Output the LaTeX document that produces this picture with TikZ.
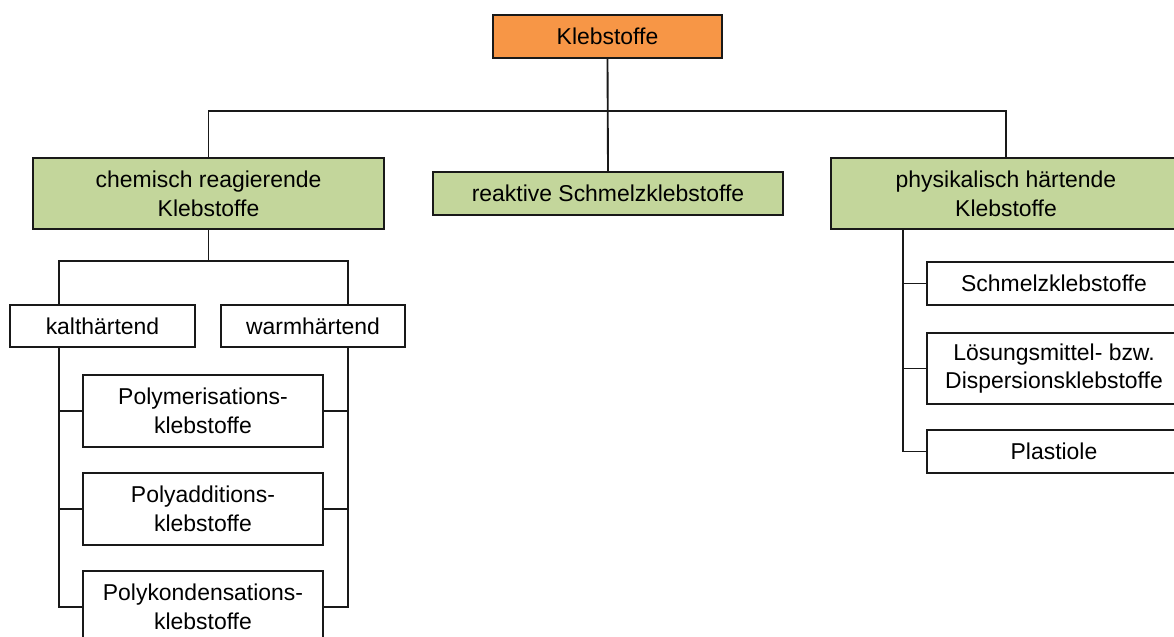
\documentclass[tikz,border=0pt]{standalone}
\usepackage{tikz}
\usepackage{xcolor}
\usepackage{fontspec}
\setmainfont{Liberation Sans}

\definecolor{orng}{HTML}{F79646}
\definecolor{olive}{HTML}{C3D69B}

\begin{document}
\begin{tikzpicture}[x=0.75pt,y=-0.75pt]
    \tikzstyle{B}=[rectangle,draw=black!90,line width=1.4pt,inner sep=0pt,align=center,
        font=\fontsize{17.2}{21.5}\selectfont]
    \tikzstyle{R}=[B,fill=orng]
    \tikzstyle{G}=[B,fill=olive]
    \tikzstyle{W}=[B,fill=white]
    \tikzstyle{line}=[draw=black!90,line width=1.4pt]

    % Page
    \clip (0,0) rectangle (1174,636);

    % Root and groups
    \node [R,minimum width=171.75pt,minimum height=32.25pt] (root) at (607.5, 36.5) {Klebstoffe};
    \node [G,minimum width=263.25pt,minimum height=53.25pt] (chem) at (208.5, 193.5) {chemisch reagierende\\Klebstoffe};
    \node [G,minimum width=262.5pt,minimum height=32.25pt] (reak) at (608, 193.5) {reaktive Schmelzklebstoffe};
    \node [G,minimum width=262.5pt,minimum height=53.25pt] (phys) at (1006, 193.5) {physikalisch härtende\\Klebstoffe};

    \coordinate (bus) at (607.5, 111);
    \draw [line] (root.south) -- (reak.north);
    \draw [line] (chem.north) |- (bus) -| (phys.north);

    % chemisch reagierend
    \node [W,minimum width=138.75pt,minimum height=31.5pt] (kalt) at (102.5, 326) {kalthärtend};
    \node [W,minimum width=138pt,minimum height=31.5pt] (warm) at (313, 326) {warmhärtend};

    \node [W,minimum width=180pt,minimum height=54pt] (pm) at (203, 411) {Polymerisations-\\klebstoffe};
    \node [W,minimum width=180pt,minimum height=54pt] (pa) at (203, 509) {Polyadditions-\\klebstoffe};
    \node [W,minimum width=180pt,minimum height=54pt] (pk) at (203, 607) {Polykondensations-\\klebstoffe};

    \coordinate (kl) at (59, 261);
    \coordinate (wl) at (348, 261);
    \draw [line] (chem.south) -- (chem.south |- kl);
    \draw [line] (kalt.north -| kl) -- (kl) -- (wl) -- (warm.north -| wl);

    \draw [line] (kalt.south -| kl) |- (pk.west);
    \draw [line] (kl |- pm.west) -- (pm.west);
    \draw [line] (kl |- pa.west) -- (pa.west);
    \draw [line] (warm.south -| wl) |- (pk.east);
    \draw [line] (wl |- pm.east) -- (pm.east);
    \draw [line] (wl |- pa.east) -- (pa.east);

    % physikalisch haertend
    \node [W,minimum width=190.5pt,minimum height=32.25pt] (schm) at (1054, 283.5) {Schmelzklebstoffe};
    \node [W,minimum width=190.5pt,minimum height=53.25pt] (loes) at (1054, 368.5) {Lösungsmittel- bzw.\\Dispersionsklebstoffe};
    \node [W,minimum width=190.5pt,minimum height=32.25pt] (plas) at (1054, 451.5) {Plastiole};

    \coordinate (pl) at (903, 229);
    \draw [line] (phys.south -| pl) |- (plas.west);
    \draw [line] (pl |- schm.west) -- (schm.west);
    \draw [line] (pl |- loes.west) -- (loes.west);
\end{tikzpicture}
\end{document}
